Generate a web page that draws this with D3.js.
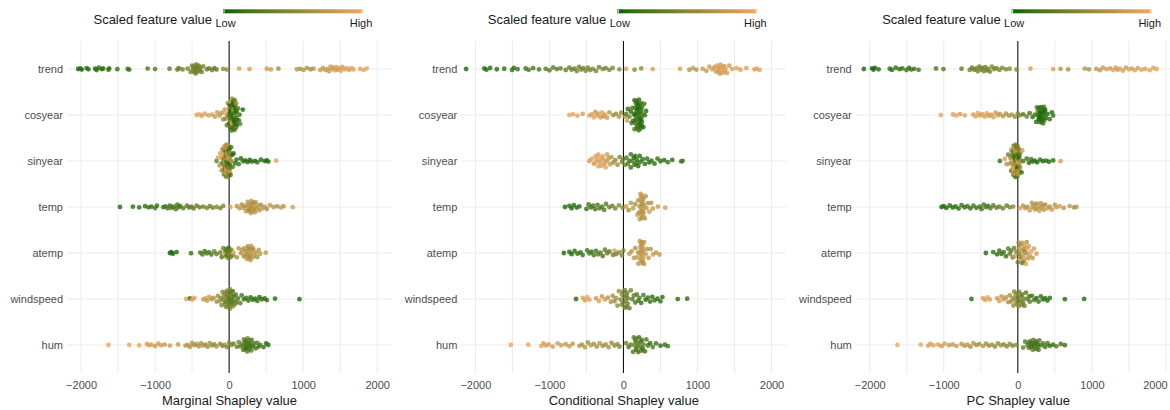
<!DOCTYPE html>
<html lang="en">
<head>
<meta charset="utf-8" />
<title>Shapley value beeswarm</title>
<style>
  body { margin: 0; background: #fff; }
  text { font-family: "Liberation Sans", Arial, sans-serif; }
</style>
</head>
<body>
<script src="https://cdn.jsdelivr.net/npm/d3@7"></script>
<script>
const features = ["trend", "cosyear", "sinyear", "temp", "atemp", "windspeed", "hum"];
const panelTitles = ["Marginal Shapley value", "Conditional Shapley value", "PC Shapley value"];
const tickValues = [-2000, -1000, 0, 1000, 2000];
const gridValues = [-2000, -1500, -1000, -500, 0, 500, 1000, 1500, 2000];

// each point: [shapley value, scaled feature value]
const margTrend = [[-2040,.03],[-2010,.05],[-1990,.04],[-1925,.06],[-1900,.05],[-1810,.07],[-1790,.06],[-1760,.08],[-1720,.07],[-1700,.09],[-1630,.1],[-1620,.09],[-1510,.11],[-1370,.12],[-1350,.13],
  [-1100,.18],[-1000,.2],[-805,.28],[-700,.3],[-680,.3],[-630,.32],
  [-560,.35],[-520,.38],[-500,.36],[-490,.4],[-480,.38],[-470,.42],[-465,.37],[-460,.4],[-455,.43],[-450,.39],[-445,.41],[-440,.38],[-430,.42],[-420,.4],[-410,.37],[-400,.41],[-390,.39],[-370,.36],[-350,.4],
  [-300,.3],[-270,.28],[-230,.32],[-200,.3],[-170,.33],[-80,.5],[-30,.5],[135,.85],[275,.85],[510,.8],[565,.8],[665,.6],
  [915,.7],[960,.65],[1005,.7],[1050,.65],[1100,.6],[1140,.7],
  [1230,.78],[1270,.75],[1300,.8],[1330,.85],[1350,.78],[1370,.82],[1390,.88],[1410,.8],[1430,.85],[1450,.9],[1470,.82],[1490,.87],[1510,.9],[1530,.84],[1560,.88],[1590,.92],[1620,.86],[1650,.9],[1680,.93],
  [1770,.9],[1820,.9],[1860,.95]];
const margCosyear = [[-440,.95],[-400,.95],[-370,.9],[-330,.9],[-280,.85],[-230,.85],[-190,.8],[-160,.8],[-130,.75],
  [-100,.7],[-80,.6],[-60,.8],[-50,.5],[-40,.9],[-30,.3],[-20,.7],[-10,.2],[0,.6],[5,.1],[10,.4],[15,.15],[20,.85],[25,.05],[30,.3],[35,.1],[40,.6],[45,.2],[50,.05],[55,.4],[60,.1],[65,.25],[70,0],[75,.15],[80,.5],[85,.1],[90,.05],[95,.3],[100,.15],[110,.1],[120,.2],[130,.05],[140,.1],[150,.3],[185,.02],
  [0,.1],[10,.05],[20,.2],[30,.08],[40,.12],[50,.3],[60,.02],[70,.18],[80,.07],[90,.25],[100,.04],[60,.75],[30,.65],[45,.9],[75,.35],[85,.15],[95,.6],[65,.05],[55,.1],[35,.2]];
const margSinyear = [[-170,.3],[-150,.9],[-130,.8],[-110,.7],[-100,.85],[-90,.6],[-80,.9],[-70,.5],[-60,.75],[-50,.4],[-40,.8],[-35,.55],[-30,.95],[-20,.35],[-15,.7],[-10,.45],[0,.6],[5,.2],[10,.8],[15,.3],[20,.5],[25,.15],[30,.65],[40,.1],[50,.25],[60,.05],
  [-120,.85],[-100,.6],[-90,.3],[-80,.75],[-70,.15],[-60,.9],[-55,.4],[-50,.7],[-45,.2],[-40,.65],[-35,.1],[-30,.8],[-25,.5],[-20,.9],[-15,.25],[-10,.7],[-5,.35],[0,.85],[5,.05],[10,.55],[20,.2],[-60,.3],
  [-50,.6],[-45,.85],[-40,.3],[-35,.7],[-30,.2],[-25,.9],[-20,.5],[-15,.8],[-10,.15],[-5,.65],[0,.4],[-55,.75],[-60,.5],[-65,.9],[-70,.35],[-75,.8],[-45,.1],[-25,.6],[-5,.05],[5,.7],
  [80,.1],[100,.05],[130,.15],[160,.05],[190,.1],[220,.05],[250,.1],[280,.02],[310,.08],[350,.05],[380,.1],[430,.05],[480,.02],[510,.05],[530,.08],[635,.9]];
const margTemp = [[-1475,.05],[-1300,.08],[-1215,.1],[-1135,.1],[-1090,.12],[-1050,.1],[-1000,.15],[-975,.12],[-890,.15],[-860,.12],[-830,.18],[-800,.15],[-780,.2],[-750,.15],[-720,.2],[-700,.18],[-680,.22],[-660,.2],[-620,.25],[-570,.25],[-540,.3],[-510,.28],[-480,.3],[-440,.35],[-400,.3],[-350,.35],[-300,.4],[-260,.35],[-220,.4],[-170,.45],[-120,.4],[-80,.45],
  [15,.85],[105,.7],[140,.75],[170,.6],[190,.8],[210,.65],[230,.7],[250,.75],[265,.6],[280,.8],[295,.7],[310,.65],[320,.75],[330,.6],[345,.8],[360,.7],[375,.65],[390,.75],[410,.7],[430,.6],[450,.8],[480,.7],[510,.65],[550,.75],[600,.7],[650,.65],[700,.8],[735,.7],[860,.85],
  [250,.7],[270,.65],[290,.75],[310,.72],[330,.68],[350,.7],[280,.62],[300,.78]];
const margAtemp = [[-800,.02],[-780,.05],[-760,.03],[-710,.05],[-515,.12],[-390,.15],[-360,.2],[-330,.15],[-300,.2],[-270,.25],[-240,.2],[-200,.3],[-170,.3],[-120,.35],[-100,.2],[-80,.4],[-60,.85],[-50,.3],[-40,.45],[-20,.25],[0,.5],[10,.35],[30,.4],[50,.3],[60,.9],
  [-40,.3],[-30,.2],[-10,.4],[-5,.15],[20,.35],
  [105,.6],[130,.7],[160,.65],[180,.75],[200,.6],[220,.7],[240,.8],[250,.65],[265,.7],[280,.6],[295,.75],[310,.7],[325,.65],[340,.8],[360,.7],[380,.6],[400,.75],[420,.7],[495,.75],
  [200,.7],[230,.65],[260,.75],[270,.6],[290,.7],[300,.8],[320,.72],[250,.68],[280,.78]];
const margWindspeed = [[-580,.95],[-530,.1],[-500,.9],[-470,.85],[-350,.8],[-320,.85],[-300,.75],[-270,.8],[-240,.7],[-210,.65],
  [-170,.6],[-150,.55],[-130,.6],[-110,.5],[-100,.45],[-90,.55],[-80,.4],[-70,.5],[-60,.45],[-50,.35],[-40,.5],[-30,.4],[-20,.3],[-10,.45],[0,.35],[10,.4],[20,.3],[30,.35],[40,.25],[50,.4],[60,.3],[70,.2],[80,.35],[90,.25],[100,.3],[120,.2],[150,.25],
  [-60,.5],[-40,.38],[-20,.42],[0,.3],[10,.48],[20,.36],[30,.3],[-10,.35],[40,.32],[50,.28],
  [170,.15],[200,.1],[230,.15],[260,.1],[290,.05],[320,.1],[350,.08],[380,.1],[410,.05],[440,.1],[480,.05],[510,.08],[620,.05],[950,.02]];
const margHum = [[-1630,.98],[-1350,.95],[-1215,.9],[-1110,.85],[-1080,.9],[-1050,.85],[-1000,.8],[-960,.85],[-920,.8],[-870,.75],[-800,.8],[-690,.75],[-590,.7],[-560,.75],[-530,.65],[-500,.7],[-470,.6],[-440,.7],[-410,.65],[-380,.6],[-350,.7],[-320,.55],[-290,.6],[-260,.65],[-230,.55],[-200,.5],[-170,.6],[-120,.5],[-90,.45],[-60,.55],[-30,.4],[0,.5],[30,.45],[60,.35],
  [105,.3],[130,.4],[150,.25],[170,.35],[190,.2],[200,.3],[215,.25],[230,.15],[245,.3],[260,.2],[275,.35],[290,.15],[305,.25],[320,.1],[340,.2],[360,.15],[380,.25],[400,.1],[420,.2],[465,.1],[500,.05],[530,.08],
  [200,.2],[220,.3],[240,.15],[260,.25],[280,.2],[300,.3],[230,.1],[250,.35],[270,.18]];

const condTrend = [[-2125,.02],[-1880,.05],[-1850,.04],[-1800,.06],[-1710,.08],[-1610,.08],[-1505,.1],[-1480,.1],[-1430,.12],[-1320,.15],[-1280,.18],[-1220,.15],[-1140,.2],[-1050,.25],[-1000,.22],[-950,.28],[-900,.25],[-850,.3],[-780,.3],[-730,.32],[-700,.35],[-660,.3],[-630,.38],[-600,.35],[-570,.4],[-540,.35],[-510,.42],[-480,.38],[-450,.4],[-414,.45],[-370,.4],[-330,.38],[-280,.42],[-240,.35],[-190,.4],[-145,.45],[-55,.5],
  [36,.85],[150,.45],[240,.5],[395,.85],[765,.85],[890,.7],[940,.75],[985,.7],[1070,.8],[1120,.75],[1160,.8],[1200,.85],[1230,.8],[1260,.9],[1280,.85],[1300,.8],[1320,.9],[1340,.85],[1360,.8],[1380,.9],[1400,.85],[1430,.8],[1470,.85],[1530,.9],[1580,.85],[1660,.9],[1770,.9],[1800,.95],[1840,.92],
  [1250,.85],[1290,.8],[1330,.9],[1370,.85],[1310,.82]];
const condCosyear = [[-730,.95],[-680,.9],[-620,.95],[-550,.85],[-460,.9],[-430,.85],[-400,.95],[-380,.8],[-360,.9],[-340,.85],[-310,.8],[-290,.9],[-270,.75],[-250,.85],[-220,.8],[-190,.7],[-140,.6],[-100,.55],[-60,.65],[-30,.5],[20,.7],[50,.8],
  [36,.2],[60,.1],[80,.3],[100,.05],[110,.15],[120,.2],[130,.05],[140,.1],[150,.25],[160,.02],[170,.1],[180,.15],[190,.05],[200,.2],[210,.1],[220,.05],[230,.15],[240,.02],[250,.1],[260,.2],[270,.05],[280,.1],[290,.15],[306,.05],
  [150,.05],[160,.15],[170,.02],[180,.1],[190,.2],[200,.05],[210,.12],[220,.03],[230,.08],[240,.18],[250,.05],[175,.1],[185,.3],[195,.05],[205,.15],[215,.02],[225,.1],[235,.25],[245,.05],[165,.1]];
const condSinyear = [[-460,.85],[-430,.9],[-400,.8],[-380,.95],[-360,.85],[-340,.9],[-320,.8],[-300,.85],[-280,.95],[-260,.8],[-240,.9],[-220,.85],[-200,.75],[-180,.8],[-160,.7],[-140,.6],[-110,.5],[-80,.55],[-50,.45],[-20,.4],[0,.35],
  [-380,.9],[-340,.85],[-300,.9],[-260,.85],[-220,.8],
  [20,.3],[40,.2],[60,.25],[80,.15],[100,.1],[120,.2],[140,.05],[160,.1],[180,.15],[200,.05],[230,.1],[260,.08],[290,.05],[320,.1],[350,.02],[380,.1],[420,.05],[460,.1],[500,.08],[550,.05],[600,.1],[660,.05],[780,.1],[800,.15],
  [100,.1],[150,.05],[180,.1],[220,.08]];
const condTemp = [[-790,.02],[-730,.05],[-700,.03],[-670,.06],[-630,.05],[-595,.08],[-500,.1],[-470,.15],[-440,.12],[-410,.18],[-380,.15],[-350,.2],[-320,.18],[-290,.22],[-260,.2],[-235,.25],[-190,.3],[-150,.35],[-110,.4],[-60,.45],[-10,.5],
  [36,.8],[70,.6],[100,.7],[130,.75],[160,.65],[190,.8],[210,.7],[230,.75],[250,.6],[270,.8],[290,.7],[310,.75],[330,.65],[350,.8],[375,.7],[396,.75],[465,.8],[565,.85],
  [200,.7],[220,.8],[240,.72],[250,.65],[260,.78],[270,.7],[280,.68],[230,.75],[300,.72],
  [220,.75],[240,.7],[250,.8],[260,.72],[270,.65],[230,.78],[245,.68]];
const condAtemp = [[-805,.02],[-730,.05],[-700,.03],[-660,.06],[-620,.05],[-580,.08],[-550,.1],[-490,.12],[-460,.15],[-430,.12],[-400,.18],[-370,.15],[-340,.2],[-310,.22],[-280,.2],[-250,.25],[-220,.3],[-190,.28],[-140,.35],[-120,.85],[-100,.4],[-60,.45],[-20,.5],[0,.45],
  [80,.75],[110,.7],[140,.8],[160,.65],[180,.75],[200,.7],[220,.8],[240,.65],[260,.75],[280,.7],[300,.8],[320,.65],[340,.75],[370,.7],[400,.8],[440,.7],[486,.75],
  [200,.75],[220,.7],[240,.78],[250,.72],[260,.65],[270,.8],[280,.75],[230,.7],
  [230,.75],[240,.7],[250,.8],[260,.72],[270,.68],[245,.76]];
const condWindspeed = [[-640,.05],[-550,.9],[-520,.85],[-490,.95],[-460,.9],[-370,.8],[-330,.85],[-290,.75],[-250,.8],[-210,.7],[-170,.65],[-144,.6],[-120,.55],[-100,.6],[-80,.5],[-60,.55],[-40,.45],[-20,.5],[0,.4],[20,.45],[40,.35],[60,.4],[80,.3],[100,.35],[120,.25],[140,.3],[160,.2],[180,.25],[200,.15],[216,.2],
  [-20,.4],[0,.35],[10,.42],[20,.38],[30,.4],[40,.3],[50,.35],[60,.32],
  [240,.1],[270,.15],[300,.05],[330,.1],[360,.08],[390,.05],[420,.1],[460,.05],[500,.08],[527,.05],[734,.05],[861,.05]];
const condHum = [[-1520,.98],[-1285,.95],[-1110,.9],[-1080,.85],[-1050,.9],[-1010,.85],[-955,.8],[-890,.85],[-840,.8],[-780,.75],[-730,.8],[-685,.75],[-595,.7],[-560,.65],[-520,.7],[-480,.6],[-440,.7],[-400,.65],[-360,.6],[-320,.7],[-280,.55],[-240,.6],[-200,.65],[-160,.55],[-120,.5],[-80,.55],[-54,.45],
  [36,.35],[70,.25],[100,.3],[130,.2],[150,.35],[170,.15],[190,.25],[210,.1],[230,.2],[250,.15],[270,.3],[290,.1],[310,.2],[330,.15],[360,.1],[396,.2],[441,.1],[500,.05],[560,.1],[599,.15],
  [140,.25],[160,.2],[180,.3],[200,.15],[220,.25],[240,.2],[260,.1],[170,.3]];

const pcTrend = [[-2080,.02],[-1970,.04],[-1950,.05],[-1930,.03],[-1880,.06],[-1730,.08],[-1700,.07],[-1650,.1],[-1600,.09],[-1560,.1],[-1505,.12],[-1470,.1],[-1440,.14],[-1400,.12],[-1340,.15],[-1105,.2],[-1005,.22],[-760,.3],
  [-650,.35],[-620,.3],[-590,.38],[-560,.35],[-540,.4],[-520,.36],[-500,.42],[-480,.38],[-460,.4],[-440,.37],[-420,.42],[-400,.4],[-378,.38],[-350,.42],[-320,.38],[-290,.4],[-250,.42],[-210,.44],[-160,.4],[-110,.46],[-18,.5],
  [170,.85],[477,.85],[577,.7],[680,.6],[905,.7],[960,.65],[1060,.75],[1110,.75],[1150,.8],[1200,.85],[1250,.8],[1290,.9],[1320,.85],[1350,.8],[1380,.9],[1420,.85],[1460,.8],[1500,.9],[1540,.85],[1580,.9],[1620,.85],[1670,.9],[1720,.88],[1780,.92],[1830,.9],[1874,.95]];
const pcCosyear = [[-1040,.95],[-875,.9],[-830,.95],[-780,.85],[-716,.9],[-604,.85],[-570,.9],[-540,.95],[-510,.8],[-480,.9],[-450,.85],[-420,.9],[-390,.8],[-360,.85],[-330,.9],[-300,.8],[-270,.85],[-243,.75],[-200,.7],[-160,.65],[-120,.6],[-80,.65],[-40,.55],[0,.5],[27,.45],
  [72,.2],[120,.3],[160,.15],[200,.1],[230,.2],[250,.05],[270,.1],[290,.15],[300,.02],[310,.1],[320,.05],[330,.15],[340,.02],[350,.1],[360,.05],[380,.1],[400,.02],[430,.08],[460,.05],[477,.1],
  [260,.1],[280,.05],[300,.15],[310,.02],[320,.12],[330,.05],[340,.1],[350,.2],[360,.08],[370,.05],[290,.02],[270,.2]];
const pcSinyear = [[-243,.1],[-176,.85],[-150,.7],[-130,.3],[-110,.8],[-90,.2],[-70,.75],[-50,.4],[-40,.9],[-30,.15],[-20,.6],[-10,.3],[0,.85],[10,.1],[20,.7],[30,.25],[40,.55],[50,.1],[60,.8],[72,.2],
  [-100,.6],[-90,.85],[-80,.3],[-70,.1],[-60,.7],[-50,.9],[-45,.2],[-40,.5],[-35,.75],[-30,.05],[-25,.6],[-20,.85],[-15,.15],[-10,.4],[-5,.9],[0,.2],[5,.65],[10,.8],[15,.35],[20,.1],[25,.7],[30,.5],[-65,.8],[-55,.25],[-85,.6],
  [-60,.2],[-55,.85],[-50,.5],[-45,.7],[-40,.1],[-35,.9],[-30,.4],[-25,.75],[-20,.15],[-15,.55],[-10,.8],[-5,.25],[0,.65],[5,.1],[-20,.9],[-40,.6],[-30,.3],[-10,.05],[-50,.8],[-5,.45],
  [120,.1],[150,.05],[180,.15],[200,.05],[230,.1],[260,.02],[300,.08],[340,.05],[380,.1],[420,.05],[477,.08],[577,.85]];
const pcTemp = [[-1030,.02],[-1000,.05],[-965,.03],[-920,.06],[-880,.05],[-840,.08],[-800,.06],[-760,.1],[-720,.08],[-680,.12],[-640,.1],[-600,.14],[-560,.12],[-514,.15],[-490,.18],[-460,.15],[-430,.2],[-400,.18],[-370,.22],[-333,.25],[-290,.3],[-250,.28],[-200,.35],[-150,.3],[-108,.4],[-63,.5],
  [27,.85],[72,.7],[100,.75],[130,.65],[160,.8],[190,.7],[220,.75],[250,.6],[280,.8],[310,.7],[340,.75],[370,.65],[400,.8],[430,.7],[460,.75],[500,.7],[522,.8],[567,.85],[620,.7],[700,.75],[760,.6],[792,.7],
  [200,.7],[230,.75],[260,.65],[290,.8],[320,.7],[350,.75]];
const pcAtemp = [[-432,.05],[-333,.1],[-280,.05],[-250,.12],[-220,.08],[-190,.15],[-160,.1],[-130,.2],[-108,.3],[-90,.25],[-70,.4],[-50,.3],[-40,.8],[-20,.45],[0,.35],[10,.7],[20,.5],[30,.9],[40,.4],[50,.75],[60,.3],[70,.85],[80,.6],[90,.8],[100,.5],[110,.9],[120,.65],[130,.85],[140,.7],[160,.8],[180,.9],[200,.75],[220,.85],[252,.8],
  [20,.8],[60,.7],[90,.85],[120,.75],[150,.9],[30,.6],[80,.4]];
const pcWindspeed = [[-626,.05],[-470,.9],[-440,.85],[-410,.95],[-378,.9],[-280,.8],[-250,.85],[-220,.75],[-190,.8],[-160,.7],[-130,.65],[-108,.6],[-90,.55],[-70,.6],[-50,.5],[-30,.55],[-10,.45],[0,.4],[10,.5],[30,.35],[50,.4],[70,.3],[90,.35],[110,.25],[130,.3],[150,.2],[162,.25],
  [-40,.5],[-20,.45],[0,.35],[20,.42],[40,.38],[60,.3],[-60,.55],[80,.33],
  [190,.1],[220,.15],[250,.05],[280,.1],[310,.08],[340,.05],[370,.1],[400,.05],[432,.08],[635,.05],[896,.05]];
const pcHum = [[-1626,.98],[-1311,.95],[-1212,.9],[-1180,.85],[-1140,.9],[-1077,.85],[-1031,.8],[-990,.85],[-930,.8],[-880,.75],[-829,.8],[-761,.75],[-720,.7],[-680,.75],[-640,.65],[-600,.7],[-560,.65],[-520,.6],[-469,.7],[-430,.6],[-390,.55],[-350,.65],[-310,.5],[-270,.55],[-230,.6],[-190,.5],[-150,.45],[-110,.55],[-70,.4],[-18,.45],
  [72,.3],[100,.2],[130,.35],[150,.15],[170,.25],[190,.1],[210,.3],[230,.15],[250,.2],[270,.1],[290,.25],[310,.15],[340,.2],[370,.1],[400,.15],[432,.05],[477,.1],[520,.2],[580,.15],[635,.1],
  [150,.2],[180,.15],[200,.25],[220,.1],[240,.2],[260,.3],[280,.15]];

const panelRows = [
  [margTrend, margCosyear, margSinyear, margTemp, margAtemp, margWindspeed, margHum],
  [condTrend, condCosyear, condSinyear, condTemp, condAtemp, condWindspeed, condHum],
  [pcTrend, pcCosyear, pcSinyear, pcTemp, pcAtemp, pcWindspeed, pcHum]
];

const W = 1170, H = 410;
const panelOffsets = [0, 394.3, 788.7];
const plot = {left: 67, right: 392, top: 41, bottom: 373};

const svg = d3.select("body").append("svg")
    .attr("width", W)
    .attr("height", H)
    .style("display", "block");

const color = d3.scaleLinear([0, 1], ["#006400", "#f4a460"])
    .interpolate(d3.interpolateLab);

const x = d3.scaleLinear([-2190, 2200], [plot.left, plot.right]);
const y = d3.scalePoint(features, [69, 345]);

// gradient for the legend bar
const grad = svg.append("defs").append("linearGradient")
    .attr("id", "fillgrad");
d3.range(0, 1.0001, 0.1).forEach(t => {
  grad.append("stop").attr("offset", t).attr("stop-color", color(t));
});

// van der Corput sequence, used to spread points vertically (quasirandom)
function vdc(n) {
  let r = 0, f = 0.5;
  while (n > 0) { r += f * (n % 2); n = Math.floor(n / 2); f /= 2; }
  return r;
}

const bw = 5.5, maxHalf = 17;

panelRows.forEach((rows, pi) => {
  const g = svg.append("g")
      .attr("transform", `translate(${panelOffsets[pi]},0)`);

  // grid
  g.append("g").selectAll("line")
      .data(gridValues)
      .join("line")
      .attr("x1", d => x(d)).attr("x2", d => x(d))
      .attr("y1", plot.top).attr("y2", plot.bottom)
      .style("stroke", "#ebebeb").style("stroke-width", 1);
  g.append("g").selectAll("line")
      .data(features)
      .join("line")
      .attr("x1", plot.left).attr("x2", plot.right)
      .attr("y1", d => y(d)).attr("y2", d => y(d))
      .style("stroke", "#ebebeb").style("stroke-width", 1);

  // density at each point, per row
  const pts = [];
  rows.forEach((row, fi) => {
    const px = row.map(d => x(d[0]));
    const n = row.length;
    const dens = px.map(a => d3.sum(px, b => Math.exp(-0.5 * ((a - b) / bw) ** 2)) / n);
    const order = d3.range(n).sort((a, b) => px[a] - px[b]);
    order.forEach((idx, k) => {
      pts.push({px: px[idx], dens: dens[idx], k: k + 1, f: row[idx][1], feat: features[fi]});
    });
  });
  const maxDens = d3.max(pts, d => d.dens);

  // zero line
  g.append("line")
      .attr("x1", x(0)).attr("x2", x(0))
      .attr("y1", plot.top).attr("y2", plot.bottom)
      .style("stroke", "#000").style("stroke-width", 1);

  g.append("g").selectAll("circle")
      .data(pts)
      .join("circle")
      .attr("cx", d => d.px)
      .attr("cy", d => y(d.feat) + (vdc(d.k) * 2 - 1) * maxHalf * d.dens / maxDens)
      .attr("r", 2.4)
      .attr("fill", d => color(d.f))
      .attr("fill-opacity", 0.78);

  // axes
  const xAxis = g.append("g")
      .attr("transform", `translate(0,${plot.bottom})`)
      .call(d3.axisBottom(x).tickValues(tickValues).tickFormat(d3.format("d")).tickSize(0).tickPadding(8));
  xAxis.select(".domain").remove();
  xAxis.selectAll("text")
      .style("font-size", "11px")
      .style("fill", "#4d4d4d");
  if (pi == 2) {
    // last label would run past the edge of the picture
    xAxis.selectAll("text").filter(d => d == 2000).attr("dx", -11);
  }

  const yAxis = g.append("g")
      .attr("transform", `translate(${plot.left},0)`)
      .call(d3.axisLeft(y).tickSize(0).tickPadding(4));
  yAxis.select(".domain").remove();
  yAxis.selectAll("text")
      .style("font-size", "11px")
      .style("fill", "#4d4d4d");

  g.append("text")
      .attr("x", (plot.left + plot.right) / 2)
      .attr("y", 404.5)
      .attr("text-anchor", "middle")
      .style("font-size", "13px")
      .style("fill", "#1a1a1a")
      .text(panelTitles[pi]);

  // legend
  const leg = g.append("g");
  leg.append("text")
      .attr("x", 212)
      .attr("y", 24)
      .attr("text-anchor", "end")
      .style("font-size", "13px")
      .style("fill", "#1a1a1a")
      .text("Scaled feature value");
  leg.append("rect")
      .attr("x", 223).attr("y", 9.3)
      .attr("width", 140).attr("height", 4)
      .attr("fill", "url(#fillgrad)");
  leg.selectAll("line.tk")
      .data([224, 362])
      .join("line")
      .attr("class", "tk")
      .attr("x1", d => d).attr("x2", d => d)
      .attr("y1", 9.8).attr("y2", 12.8)
      .style("stroke", "#fff").style("stroke-width", 1);
  leg.selectAll("text.lab")
      .data([["Low", 225.5], ["High", 361]])
      .join("text")
      .attr("class", "lab")
      .attr("x", d => d[1])
      .attr("y", 26.5)
      .attr("text-anchor", "middle")
      .style("font-size", "11px")
      .style("fill", "#1a1a1a")
      .text(d => d[0]);
});
</script>
</body>
</html>
